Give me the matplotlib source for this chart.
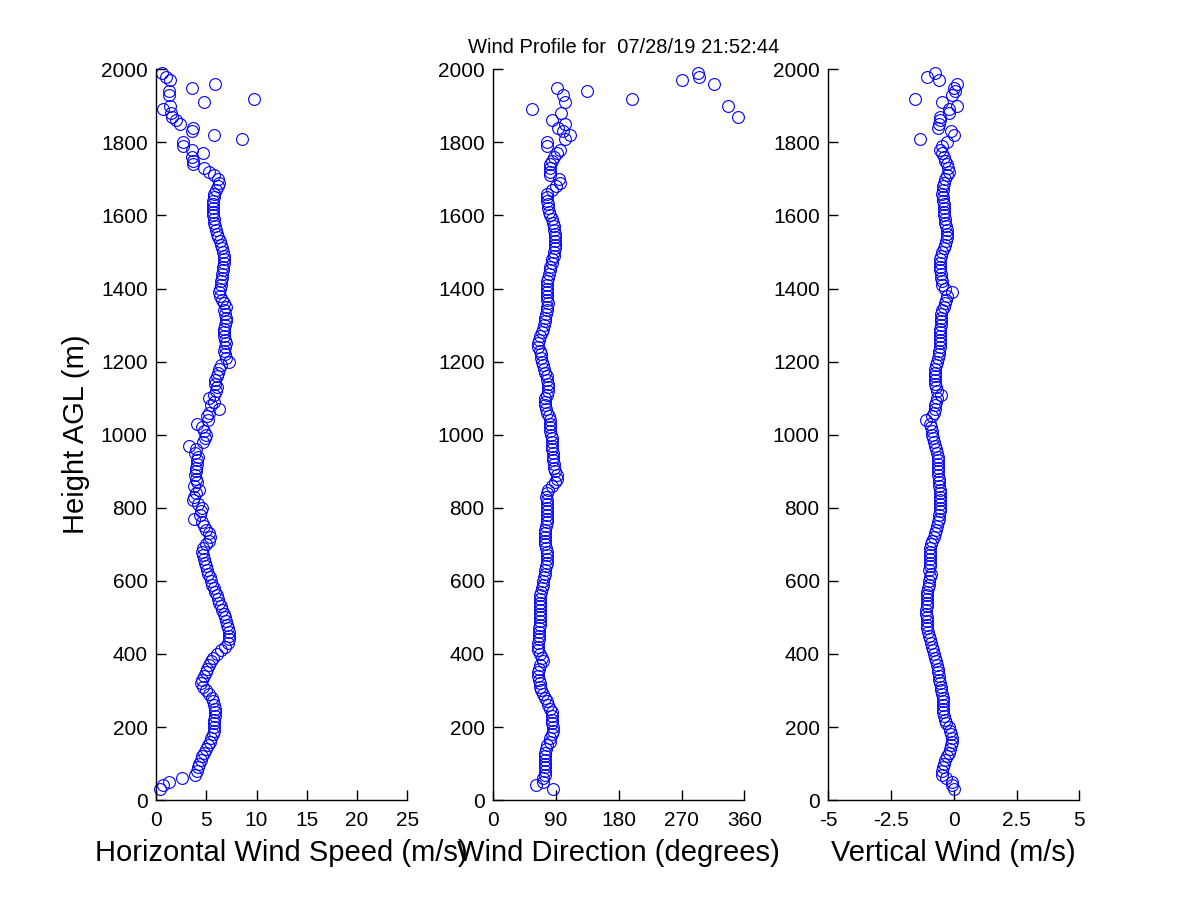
import matplotlib
matplotlib.use('Agg')
import matplotlib.pyplot as plt

plt.rcParams['font.family'] = ['Liberation Sans', 'DejaVu Sans']

title_text = 'Wind Profile for  07/28/19 21:52:44'

# heights of the range gates (m AGL)
heights = [
    30, 40, 50, 60, 70, 80, 90, 100, 110, 120,
    130, 140, 150, 160, 170, 180, 190, 200, 210, 220,
    230, 240, 250, 260, 270, 280, 290, 300, 310, 320,
    330, 340, 350, 360, 370, 380, 390, 400, 410, 420,
    430, 440, 450, 460, 470, 480, 490, 500, 510, 520,
    530, 540, 550, 560, 570, 580, 590, 600, 610, 620,
    630, 640, 650, 660, 670, 680, 690, 700, 710, 720,
    730, 740, 750, 760, 770, 780, 790, 800, 810, 820,
    830, 840, 850, 860, 870, 880, 890, 900, 910, 920,
    930, 940, 950, 960, 970, 980, 990, 1000, 1010, 1020,
    1030, 1040, 1050, 1060, 1070, 1080, 1090, 1100, 1110, 1120,
    1130, 1140, 1150, 1160, 1170, 1180, 1190, 1200, 1210, 1220,
    1230, 1240, 1250, 1260, 1270, 1280, 1290, 1300, 1310, 1320,
    1330, 1340, 1350, 1360, 1370, 1380, 1390, 1400, 1410, 1420,
    1430, 1440, 1450, 1460, 1470, 1480, 1490, 1500, 1510, 1520,
    1530, 1540, 1550, 1560, 1570, 1580, 1590, 1600, 1610, 1620,
    1630, 1640, 1650, 1660, 1670, 1680, 1690, 1700, 1710, 1720,
    1730, 1740, 1750, 1760, 1770, 1780, 1790, 1800, 1810, 1820,
    1830, 1840, 1850, 1860, 1870, 1880, 1890, 1900, 1910, 1920,
    1930, 1940, 1950, 1960, 1970, 1980, 1990,
]

# horizontal wind speed (m/s)
speed = [
    0.4, 0.7, 1.3, 2.6, 3.9, 4.1, 4.2, 4.3, 4.5, 4.6,
    4.8, 5.0, 5.2, 5.4, 5.5, 5.7, 5.8, 5.8, 5.8, 5.8,
    5.9, 5.9, 5.9, 5.8, 5.7, 5.6, 5.3, 5.0, 4.7, 4.5,
    4.6, 4.8, 5.0, 5.1, 5.3, 5.5, 5.7, 6.1, 6.5, 6.9,
    7.2, 7.3, 7.3, 7.3, 7.2, 7.1, 7.0, 6.9, 6.8, 6.6,
    6.5, 6.3, 6.2, 6.1, 5.9, 5.8, 5.6, 5.5, 5.4, 5.2,
    5.1, 5.0, 4.9, 4.8, 4.7, 4.6, 4.7, 5.0, 5.3, 5.4,
    5.3, 5.0, 4.8, 4.6, 3.8, 4.4, 4.5, 4.6, 4.2, 3.7,
    3.8, 4.0, 4.3, 3.8, 4.1, 4.0, 3.9, 4.0, 4.0, 4.1,
    4.1, 4.2, 3.9, 4.0, 3.3, 4.7, 4.9, 5.0, 4.8, 4.6,
    4.1, 5.2, 5.1, 5.3, 6.3, 5.5, 5.8, 5.3, 5.8, 6.0,
    6.1, 5.9, 5.9, 6.1, 6.2, 6.3, 6.5, 7.3, 7.0, 6.9,
    6.8, 6.9, 7.0, 6.9, 6.8, 6.8, 6.8, 6.9, 7.0, 7.0,
    6.9, 6.8, 7.0, 6.8, 6.6, 6.4, 6.3, 6.4, 6.5, 6.5,
    6.6, 6.6, 6.7, 6.7, 6.8, 6.8, 6.8, 6.7, 6.6, 6.5,
    6.4, 6.2, 6.1, 6.0, 5.9, 5.8, 5.8, 5.7, 5.7, 5.7,
    5.7, 5.7, 5.8, 5.8, 6.0, 6.2, 6.3, 6.2, 5.8, 5.3,
    4.8, 3.7, 3.7, 3.6, 4.7, 3.6, 2.7, 2.7, 8.6, 5.8,
    3.6, 3.7, 2.4, 2.0, 1.6, 1.5, 0.7, 1.4, 4.8, 9.7,
    1.3, 1.3, 3.6, 5.9, 1.4, 1.0, 0.6,
]

# wind direction (degrees)
direction = [
    86, 62, 71, 72, 74, 75, 75, 75, 74, 74,
    74, 76, 78, 81, 82, 84, 86, 86, 85, 85,
    84, 84, 82, 79, 77, 75, 72, 69, 68, 67,
    66, 65, 65, 66, 68, 71, 70, 67, 65, 65,
    65, 66, 66, 66, 66, 67, 67, 67, 67, 67,
    67, 67, 67, 68, 69, 70, 71, 72, 73, 74,
    75, 76, 77, 78, 78, 77, 76, 75, 74, 74,
    74, 75, 76, 77, 77, 77, 77, 77, 77, 77,
    76, 77, 79, 84, 89, 92, 91, 89, 88, 87,
    86, 86, 86, 85, 85, 84, 84, 83, 82, 81,
    81, 81, 80, 78, 76, 75, 74, 75, 77, 79,
    79, 79, 78, 77, 75, 73, 71, 70, 69, 69,
    67, 65, 64, 66, 68, 70, 72, 73, 74, 75,
    76, 77, 78, 79, 78, 77, 77, 77, 78, 78,
    79, 80, 81, 82, 84, 85, 87, 88, 89, 89,
    89, 89, 89, 88, 87, 86, 84, 82, 80, 79,
    79, 78, 77, 78, 84, 90, 96, 94, 81, 81,
    81, 81, 84, 88, 91, 96, 77, 78, 103, 110,
    100, 93, 103, 84, 351, 97, 56, 336, 103, 199,
    100, 134, 92, 316, 270, 295, 294,
]

# vertical wind (m/s)
vertical = [
    0.03, -0.07, -0.07, -0.30, -0.46, -0.46, -0.44, -0.40, -0.33, -0.25,
    -0.20, -0.15, -0.10, -0.07, -0.07, -0.10, -0.13, -0.20, -0.30, -0.35,
    -0.40, -0.42, -0.42, -0.43, -0.43, -0.44, -0.46, -0.49, -0.52, -0.55,
    -0.60, -0.60, -0.62, -0.63, -0.66, -0.69, -0.73, -0.77, -0.82, -0.88,
    -0.92, -0.95, -0.99, -1.02, -1.05, -1.06, -1.06, -1.07, -1.09, -1.09,
    -1.08, -1.07, -1.06, -1.06, -1.06, -1.04, -1.00, -0.97, -0.93, -0.89,
    -0.97, -0.95, -0.93, -0.93, -0.95, -0.96, -0.93, -0.90, -0.85, -0.80,
    -0.75, -0.70, -0.65, -0.62, -0.60, -0.57, -0.55, -0.53, -0.53, -0.53,
    -0.53, -0.53, -0.55, -0.58, -0.60, -0.60, -0.61, -0.62, -0.62, -0.62,
    -0.62, -0.62, -0.66, -0.70, -0.73, -0.78, -0.82, -0.86, -0.88, -0.90,
    -0.93, -1.12, -0.88, -0.80, -0.75, -0.73, -0.70, -0.66, -0.49, -0.68,
    -0.70, -0.73, -0.73, -0.73, -0.73, -0.73, -0.70, -0.66, -0.62, -0.60,
    -0.58, -0.56, -0.54, -0.53, -0.53, -0.53, -0.53, -0.52, -0.51, -0.50,
    -0.49, -0.46, -0.40, -0.35, -0.30, -0.26, -0.07, -0.35, -0.46, -0.48,
    -0.50, -0.52, -0.53, -0.53, -0.53, -0.53, -0.50, -0.45, -0.38, -0.33,
    -0.30, -0.28, -0.26, -0.28, -0.30, -0.33, -0.35, -0.37, -0.38, -0.40,
    -0.40, -0.42, -0.44, -0.45, -0.44, -0.42, -0.40, -0.35, -0.28, -0.20,
    -0.22, -0.26, -0.35, -0.40, -0.46, -0.53, -0.45, -0.26, -1.36, 0.00,
    -0.10, -0.62, -0.58, -0.53, -0.53, -0.20, -0.20, 0.13, -0.46, -1.52,
    -0.07, 0.05, 0.00, 0.13, -0.60, -1.06, -0.73,
]

speed_ticks = [0, 5, 10, 15, 20, 25]
dir_ticks = [0, 90, 180, 270, 360]
vert_ticks = [-5, -2.5, 0, 2.5, 5]
vert_labels = ['-5', '-2.5', '0', '2.5', '5']
height_ticks = [0, 200, 400, 600, 800, 1000, 1200, 1400, 1600, 1800, 2000]


def StyleAxis(ax, xlim, xticks, xlabel, xticklabels=None):
    ax.set_xlim(xlim)
    ax.set_ylim(0, 2000)
    ax.set_xticks(xticks)
    if xticklabels is not None:
        ax.set_xticklabels(xticklabels)
    ax.set_yticks(height_ticks)
    ax.spines['top'].set_visible(False)
    ax.spines['right'].set_visible(False)
    ax.spines['left'].set_linewidth(1.0)
    ax.spines['bottom'].set_linewidth(1.0)
    ax.tick_params(direction='in', length=7, width=1.0, labelsize=15)
    ax.tick_params(axis='x', pad=8)
    ax.tick_params(axis='y', pad=6)
    ax.set_xlabel(xlabel, fontsize=21, labelpad=6)


def PlotProfile(ax, values):
    ax.plot(values, heights, linestyle='none', marker='o', markersize=8.5,
            markerfacecolor='none', markeredgecolor=(0, 0, 1),
            markeredgewidth=0.8, clip_on=False)


fig = plt.figure(figsize=(12, 9), dpi=100)

ax1 = fig.add_axes([0.13, 0.111, 0.2095, 0.812])
PlotProfile(ax1, speed)
StyleAxis(ax1, (0, 25), speed_ticks, 'Horizontal Wind Speed (m/s)')
ax1.set_ylabel('Height AGL (m)', fontsize=21, labelpad=8)

ax2 = fig.add_axes([0.4108, 0.111, 0.2095, 0.812])
PlotProfile(ax2, direction)
StyleAxis(ax2, (0, 360), dir_ticks, 'Wind Direction (degrees)')
ax2.set_title(title_text, fontsize=14.5, pad=12, x=0.52)

ax3 = fig.add_axes([0.69, 0.111, 0.2095, 0.812])
PlotProfile(ax3, vertical)
StyleAxis(ax3, (-5, 5), vert_ticks, 'Vertical Wind (m/s)', vert_labels)

fig.savefig('out.png', dpi=100, facecolor='white')
